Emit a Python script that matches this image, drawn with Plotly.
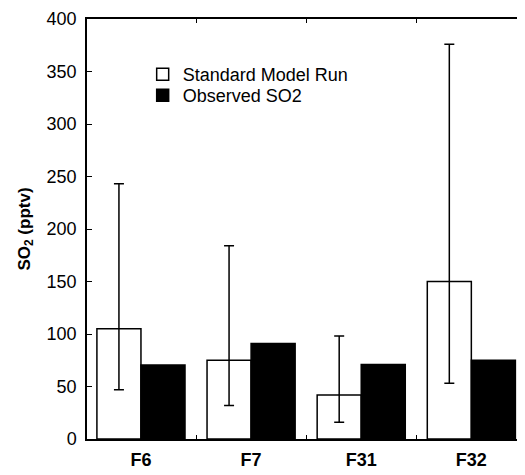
import plotly.graph_objects as go

categories = ["F6", "F7", "F31", "F32"]
model_run = [105, 75, 42, 150]
model_err_high = [243, 184, 98, 376]
model_err_low = [47, 32, 16, 53]
observed = [70.5, 91, 71, 75]
y_ticks = [0, 50, 100, 150, 200, 250, 300, 350, 400]

err_plus = [h - v for h, v in zip(model_err_high, model_run)]
err_minus = [v - l for l, v in zip(model_err_low, model_run)]

fig = go.Figure()
fig.add_trace(go.Bar(
    x=categories, y=model_run, name="Standard Model Run", legend="legend",
    marker=dict(color="white", line=dict(color="black", width=1.5)),
    error_y=dict(type="data", symmetric=False, array=err_plus, arrayminus=err_minus,
                 color="black", thickness=1.5, width=5),
))
fig.add_trace(go.Bar(
    x=categories, y=observed, name="Observed SO2", legend="legend2",
    marker=dict(color="black", line=dict(color="black", width=1.5)),
))

leg_common = dict(xanchor="left", yanchor="top", bgcolor="rgba(0,0,0,0)",
                  font=dict(size=18), tracegroupgap=0)

# page body has an 8px margin, so the figure is offset by 8px
fig.update_layout(
    width=525, height=475,
    margin=dict(l=79, r=11, t=11, b=44),
    paper_bgcolor="white", plot_bgcolor="white",
    barmode="group", bargap=0.2, bargroupgap=0,
    font=dict(family="Arial, Liberation Sans, sans-serif", color="black", size=18),
    showlegend=True,
    legend=dict(x=0.128, y=0.912, **leg_common),
    legend2=dict(x=0.128, y=0.862, **leg_common),
    xaxis=dict(range=[-0.49, 3.46], showline=True, linecolor="black", linewidth=1.5,
               mirror="ticks", ticks="inside", tickson="boundaries", ticklen=4,
               tickcolor="black", showgrid=False, zeroline=False, automargin=False,
               tickfont=dict(size=18, family="Arial, Liberation Sans, sans-serif", weight="bold"),
               ticklabelstandoff=4),
    yaxis=dict(range=[0, 400], tickvals=y_ticks, showline=True, linecolor="black",
               linewidth=1.5, mirror="ticks", ticks="inside", ticklen=5, tickcolor="black",
               showgrid=False, zeroline=False, ticklabelstandoff=5, automargin=False,
               tickfont=dict(size=18),
               title=dict(text="<b>SO<sub>2</sub> (pptv)</b>", font=dict(size=17), standoff=12)),
)

fig.write_html("out.html")
